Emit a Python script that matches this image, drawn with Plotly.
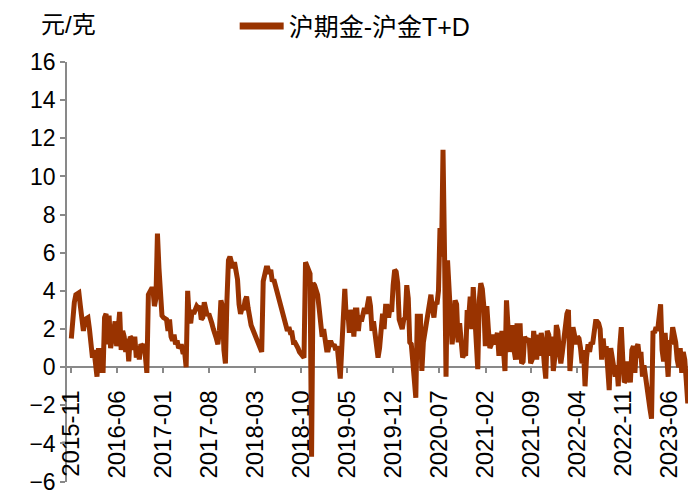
import pandas as pd
import plotly.graph_objects as go

# 沪期金-沪金T+D 价差 (元/克), read weekly from 2015-11-01
start_date = "2015-11-01"
spread = [
    1.5, 2.8, 3.4, 3.8, 3.9, 3.9, 3.2, 2.3, 1.9, 2.5,
    2.6, 2.6, 2.0, 1.2, 0.5, 0.9, 0.2, -0.5, 1.0, -0.3,
    1.0, -0.3, 2.6, 2.8, 1.2, 2.7, 1.0, 1.5, 2.2, 2.4,
    1.1, 2.0, 2.9, 0.9, 1.9, 1.6, 0.8, 1.5, 0.3, 1.6,
    1.5, 0.9, 1.6, 0.5, 1.1, 0.4, 1.2, 1.1, 1.2, 0.6,
    -0.3, 3.8, 4.0, 4.1, 4.1, 3.2, 3.6, 7.0, 5.2, 3.1,
    2.7, 2.6, 2.5, 2.5, 1.9, 2.5, 1.6, 1.4, 1.7, 1.2,
    1.4, 1.0, 1.1, 1.1, 0.7, 0.8, 0.0, 4.0, 2.6, 2.3,
    3.0, 2.8, 3.0, 3.2, 3.1, 3.2, 2.5, 2.6, 3.4, 3.0,
    2.7, 2.8, 2.6, 2.3, 2.0, 1.8, 1.5, 1.2, 1.9, 3.5,
    3.2, 0.9, 0.2, 3.5, 5.6, 5.8, 5.4, 5.2, 5.5, 4.9,
    4.6, 3.3, 2.8, 3.1, 3.0, 3.5, 3.7, 3.1, 2.4, 2.2,
    2.0, 1.8, 1.6, 1.4, 1.2, 1.0, 0.8, 4.5, 5.1, 5.2,
    5.2, 4.9, 5.1, 4.5, 4.6, 4.3, 4.1, 3.8, 3.5, 3.2,
    2.9, 2.4, 2.1, 1.9, 2.1, 1.8, 1.8, 1.3, 1.3, 1.2,
    1.0, 0.8, 0.7, 0.5, 0.5, 5.5, 5.3, 5.1, 4.9, -4.7,
    4.4, 4.3, 4.1, 3.8, 3.1, 1.9, 1.6, 2.0, 1.5, 0.9,
    0.9, 1.3, 1.3, 1.1, 1.2, 0.9, 1.1, 0.5, -0.6, 1.0,
    2.5, 4.1, 2.5, 3.0, 1.8, 3.0, 2.7, 1.6, 3.0, 3.0,
    1.9, 2.7, 2.4, 2.8, 3.1, 2.8, 3.5, 3.7, 3.2, 1.9,
    2.4, 1.6, 0.9, 0.5, 1.0, 2.2, 2.8, 2.0, 3.2, 3.2,
    2.6, 3.2, 2.9, 4.3, 5.1, 5.0, 4.4, 2.5, 2.2, 2.0,
    2.5, 2.6, 4.3, 3.6, 1.3, 1.2, 0.3, -0.5, -1.6, 2.8,
    0.9, 2.8, -0.2, 1.3, 1.9, 2.4, 3.1, 3.6, 3.8, 3.1,
    2.6, 3.4, 3.3, 4.0, 7.3, 5.8, 11.4, 6.0, -0.5, 5.6,
    4.0, 3.5, 1.2, 1.9, 3.5, 3.3, 1.3, 2.3, 1.2, 0.5,
    0.7, 0.6, 3.0, 2.6, 3.7, 2.0, 4.2, 2.8, 0.5, -0.1,
    3.5, 4.4, 4.1, 3.2, 1.1, 3.2, 2.0, 1.0, 1.2, 1.7,
    1.2, 1.5, 1.8, 0.6, 1.6, 1.9, 0.9, -0.2, 3.5, 2.2,
    0.8, 1.5, 2.2, 0.9, 0.4, 2.3, 0.4, 2.3, 0.2, 0.3,
    1.6, 1.4, 1.4, 1.5, 0.2, 0.4, 1.9, 1.1, 0.4, 1.7,
    0.6, 1.8, 1.3, 0.2, -0.6, 1.9, 1.7, 0.6, 1.6, -0.2,
    0.5, 2.2, 1.9, 0.8, 0.2, 0.8, 1.5, 2.0, 2.8, 3.0,
    -0.2, 1.0, 2.1, 1.7, 1.2, 1.6, 1.5, 1.0, 0.2, 0.9,
    -1.0, 0.5, 1.2, 0.8, 1.3, 1.2, 2.0, 2.4, 2.4, 2.3,
    2.0, 0.4, 1.5, 0.6, 1.1, -0.2, -1.2, 1.0, 0.5, -0.3,
    -0.5, 0.1, -1.0, 1.1, 2.1, 0.4, -0.8, -0.7, 0.3, -0.3,
    -0.8, 0.9, 1.1, -0.3, 1.0, 1.2, 0.5, 0.8, -0.5, 0.1,
    -0.6, -0.9, -1.6, -2.2, -2.7, 1.9, 1.8, 2.1, 1.9, 2.5,
    3.3, 0.9, 0.3, 1.8, 0.5, -0.5, 1.4, 1.2, 2.1, 1.8,
    1.3, 0.4, 0.0, 1.0, -0.3, 0.8, 0.4, -0.7, -1.9,
]
dates = pd.date_range(start_date, periods=len(spread), freq="7D")
y_ticks = [-6, -4, -2, 0, 2, 4, 6, 8, 10, 12, 14, 16]

series_name = "沪期金-沪金T+D"
unit_label = "元/克"
line_color = "#993300"
axis_color = "#898989"
font_family = "Liberation Sans, Noto Sans CJK SC, sans-serif"

fig = go.Figure()
fig.add_trace(go.Scatter(x=dates, y=spread, mode="lines", showlegend=False,
                         line=dict(color=line_color, width=5)))
# legend-only entry, drawn a bit thicker like the original
fig.add_trace(go.Scatter(x=[None], y=[None], mode="lines", name=series_name,
                         line=dict(color=line_color, width=7)))

fig.update_layout(
    width=688, height=490,
    margin=dict(l=67, r=0, t=62, b=8, autoexpand=False),
    paper_bgcolor="white", plot_bgcolor="white",
    font=dict(family=font_family, size=23, color="black"),
    showlegend=True,
    legend=dict(orientation="h", x=0.27, xanchor="left", y=1.085, yanchor="middle",
                font=dict(size=25), itemwidth=44, bgcolor="rgba(0,0,0,0)"),
    xaxis=dict(
        type="date", range=["2015-10-12", "2023-08-28"],
        tick0="2015-11-01", dtick="M7", tickformat="%Y-%m", tickangle=-90,
        anchor="free", position=6.02 / 22.02, automargin=False,
        tickfont=dict(size=24), ticklabelstandoff=8, ticklabeloverflow="allow",
        showline=True, linecolor=axis_color, linewidth=1.5,
        ticks="outside", ticklen=5, tickcolor=axis_color, tickwidth=1.5,
        showgrid=False, zeroline=False, layer="below traces",
    ),
    yaxis=dict(
        range=[-6.02, 16], tickmode="array", tickvals=y_ticks, automargin=False,
        ticklabeloverflow="allow",
        showline=True, linecolor=axis_color, linewidth=1.5,
        ticks="outside", ticklen=5, tickcolor=axis_color, tickwidth=1.5,
        showgrid=False, zeroline=False, layer="below traces",
    ),
    annotations=[dict(text=unit_label, xref="paper", yref="paper", x=-0.045, y=1.09,
                      xanchor="left", yanchor="middle", showarrow=False,
                      font=dict(size=24))],
)

# page margin off so the chart sits at the window's top-left corner
fig.write_html("out.html", config={"displayModeBar": False},
               post_script="document.body.style.margin='0';")
